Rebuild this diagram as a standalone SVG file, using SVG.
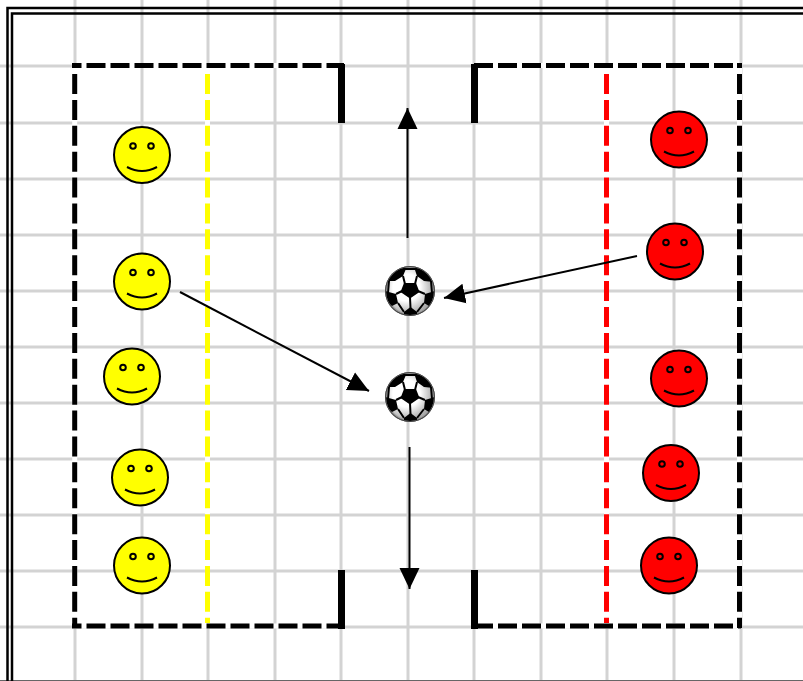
<svg xmlns="http://www.w3.org/2000/svg" width="803" height="681" viewBox="0 0 803 681">
<style>
.g{stroke:#d3d3d3;stroke-width:3;fill:none}
.w{stroke:#fff;stroke-width:5;fill:none}
.b{stroke:#000;stroke-width:5;fill:none}
.t{stroke:#000;stroke-width:7;fill:none}
.h{stroke-dasharray:19 5}
.v{stroke-dasharray:20 5.89}
.c{stroke:#000;stroke-width:2}
.e{fill:none;stroke:#000;stroke-width:2}
.y{fill:#ff0}
.r{fill:#f00}
.a{stroke:#000;stroke-width:2;fill:none;marker-end:url(#arrow)}
</style>
<defs>
<marker id="arrow" markerUnits="userSpaceOnUse" markerWidth="24" markerHeight="24" refX="21" refY="11" orient="auto"><path d="M0 1L21 11L0 21Z" fill="#000"/></marker>
<radialGradient id="rim" cx="0.5" cy="0.5" r="0.5"><stop offset="0.8" stop-color="#eee"/><stop offset="0.9" stop-color="#aaa"/><stop offset="1" stop-color="#666"/></radialGradient>
<radialGradient id="patch" cx="0.42" cy="0.42" r="0.6"><stop offset="0.5" stop-color="#fff"/><stop offset="1" stop-color="#a8a8a8"/></radialGradient>
<clipPath id="cl"><circle r="24"/></clipPath>
<g id="ball">
<circle r="25" fill="url(#rim)"/>
<circle r="22.500" fill="url(#patch)"/>
<g clip-path="url(#cl)">
<path d="M-6-8H6L9.500 1L0 7.500L-9.500 1Z M-24-10L-16-22L-5-26L-4.500-21L-7-15L-15-10Z M5-26L16-22L24-9L14-10L7-15L5-21Z M-25 0L-14 3L-12 12L-18 15L-25 9Z M25 0L15 3L14 12L19 15L26 9Z M-6 21L0.500 16L7 21L7 26H-6Z" fill="#000"/>
<path d="M0 6L0.500 17M-5-7L-7-15M5-7L7-15M-8 0L-14 3M8 0L15 3M-12 12L-6 21M14 12L7 21M-5-22L5-22M-21-10L-22 2M21-10L22 2" stroke="#000" stroke-width="2" fill="none"/>
</g>
<circle r="24.500" fill="none" stroke="#444" stroke-width="1"/>
</g>
<g id="face">
<circle r="28" class="c"/>
<circle cx="-9" cy="-9" r="2.800" class="e"/>
<circle cx="9" cy="-9" r="2.800" class="e"/>
<path d="M-15 12Q0 20 15 12" class="e"/>
</g>
</defs>
<g id="grid">
<path class="g" d="M75 0V681M142 0V681M208 0V681M275 0V681M341 0V681M408 0V681M474 0V681M541 0V681M607 0V681M674 0V681M741 0V681"/>
<path class="g" d="M0 66H803M0 123H803M0 179H803M0 235H803M0 291H803M0 347H803M0 403H803M0 459H803M0 515H803M0 571H803M0 627H803"/>
<path d="M0 680.500H803" stroke="#666" stroke-width="1"/>
</g>
<g id="border" fill="none" stroke="#000" stroke-width="2.500">
<path d="M7.500 681V8H803"/>
<path d="M12 681V13.500H803"/>
</g>
<g id="zones">
<path class="w" d="M72 65.500H344M72 626H344M74.700 63V628M474 65.500H741M474 626H741M739.500 63V628M207.500 68V624M606.500 68V624"/>
<path class="b h" stroke-dashoffset="9.500" d="M72 65.500H344"/>
<path class="b h" stroke-dashoffset="9.500" d="M72 626H344"/>
<path class="b" d="M74.700 63V68"/>
<path class="b v" d="M74.700 74V628"/>
<path class="t" d="M341.500 64V123M341.500 570V629M474.500 64V123M474.500 570V629"/>
<path class="b h" d="M474 65.500H741"/>
<path class="b h" d="M474 626H741"/>
<path class="b" d="M739.500 63V68"/>
<path class="b v" d="M739.500 74V628"/>
<path class="v" d="M207.500 74V623" stroke="#ff0" stroke-width="5" fill="none"/>
<path class="v" d="M606.500 74V623" stroke="#f00" stroke-width="5" fill="none"/>
</g>
<g id="connectors">
<path class="a" d="M407.500 238V108"/>
<path class="a" d="M180 292L369 391"/>
<path class="a" d="M637 256L444 298"/>
<path class="a" d="M409.500 447V589"/>
</g>
<g id="ball-1"><use href="#ball" x="410" y="291"/></g>
<g id="ball-2"><use href="#ball" x="410" y="397"/></g>
<g id="y1" class="y"><use href="#face" x="142" y="155"/></g>
<g id="y2" class="y"><use href="#face" x="142" y="281.500"/></g>
<g id="y3" class="y"><use href="#face" x="132" y="376.500"/></g>
<g id="y4" class="y"><use href="#face" x="140" y="477.500"/></g>
<g id="y5" class="y"><use href="#face" x="142" y="565.500"/></g>
<g id="r1" class="r"><use href="#face" x="679" y="139.500"/></g>
<g id="r2" class="r"><use href="#face" x="675" y="251.500"/></g>
<g id="r3" class="r"><use href="#face" x="679" y="378.500"/></g>
<g id="r4" class="r"><use href="#face" x="671" y="473"/></g>
<g id="r5" class="r"><use href="#face" x="669" y="565.500"/></g>
</svg>
